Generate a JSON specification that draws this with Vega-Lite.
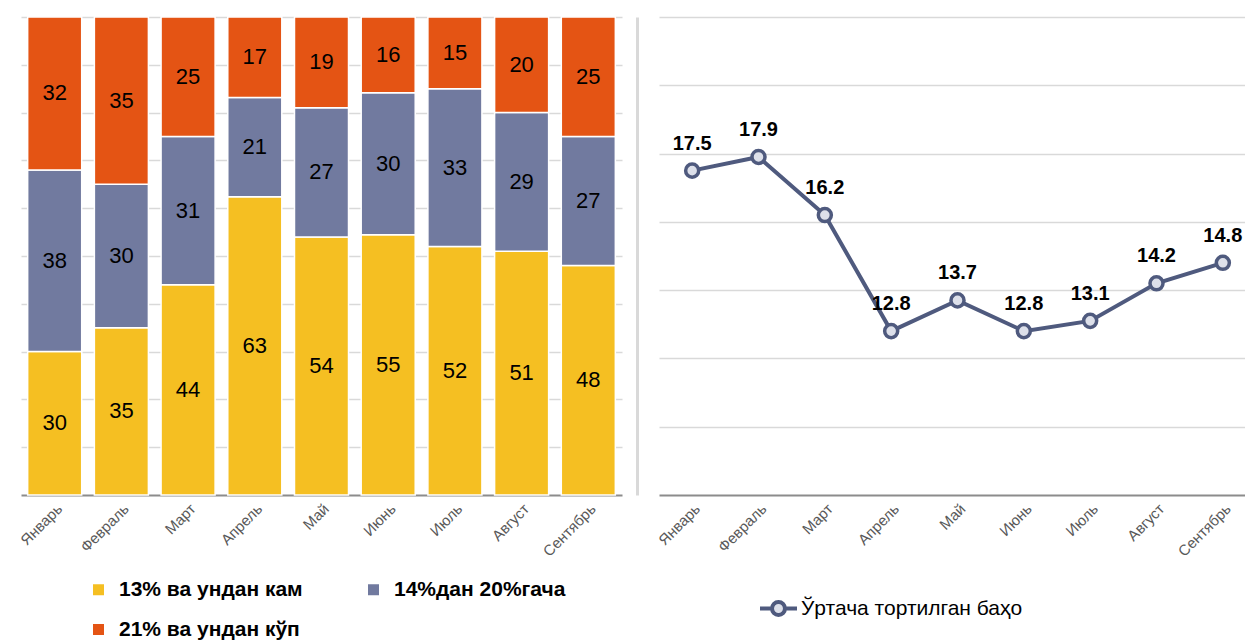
{
  "$schema": "https://vega.github.io/schema/vega-lite/v6.json",
  "padding": {"left": 17, "top": 16, "right": 0, "bottom": 0},
  "bounds": "flush",
  "spacing": 37,
  "resolve": {"scale": {"color": "independent"}, "legend": {"color": "independent"}},
  "config": {
    "font": "Liberation Sans, Arial",
    "view": {"stroke": null},
    "axis": {"title": null}
  },
  "hconcat": [
    {
      "width": 601,
      "height": 478,
      "data": {"values": [
        {"month": "Январь", "category": "13% ва ундан кам", "order": 1, "value": 30},
        {"month": "Январь", "category": "14%дан  20%гача", "order": 2, "value": 38},
        {"month": "Январь", "category": "21% ва ундан кўп", "order": 3, "value": 32},
        {"month": "Февраль", "category": "13% ва ундан кам", "order": 1, "value": 35},
        {"month": "Февраль", "category": "14%дан  20%гача", "order": 2, "value": 30},
        {"month": "Февраль", "category": "21% ва ундан кўп", "order": 3, "value": 35},
        {"month": "Март", "category": "13% ва ундан кам", "order": 1, "value": 44},
        {"month": "Март", "category": "14%дан  20%гача", "order": 2, "value": 31},
        {"month": "Март", "category": "21% ва ундан кўп", "order": 3, "value": 25},
        {"month": "Апрель", "category": "13% ва ундан кам", "order": 1, "value": 63},
        {"month": "Апрель", "category": "14%дан  20%гача", "order": 2, "value": 21},
        {"month": "Апрель", "category": "21% ва ундан кўп", "order": 3, "value": 17},
        {"month": "Май", "category": "13% ва ундан кам", "order": 1, "value": 54},
        {"month": "Май", "category": "14%дан  20%гача", "order": 2, "value": 27},
        {"month": "Май", "category": "21% ва ундан кўп", "order": 3, "value": 19},
        {"month": "Июнь", "category": "13% ва ундан кам", "order": 1, "value": 55},
        {"month": "Июнь", "category": "14%дан  20%гача", "order": 2, "value": 30},
        {"month": "Июнь", "category": "21% ва ундан кўп", "order": 3, "value": 16},
        {"month": "Июль", "category": "13% ва ундан кам", "order": 1, "value": 52},
        {"month": "Июль", "category": "14%дан  20%гача", "order": 2, "value": 33},
        {"month": "Июль", "category": "21% ва ундан кўп", "order": 3, "value": 15},
        {"month": "Август", "category": "13% ва ундан кам", "order": 1, "value": 51},
        {"month": "Август", "category": "14%дан  20%гача", "order": 2, "value": 29},
        {"month": "Август", "category": "21% ва ундан кўп", "order": 3, "value": 20},
        {"month": "Сентябрь", "category": "13% ва ундан кам", "order": 1, "value": 48},
        {"month": "Сентябрь", "category": "14%дан  20%гача", "order": 2, "value": 27},
        {"month": "Сентябрь", "category": "21% ва ундан кўп", "order": 3, "value": 25}
      ]},
      "transform": [
        {"stack": "value", "groupby": ["month"], "sort": [{"field": "order", "order": "ascending"}], "offset": "normalize", "as": ["y0", "y1"]},
        {"calculate": "(datum.y0 + datum.y1) / 2", "as": "ymid"}
      ],
      "encoding": {
        "x": {
          "field": "month", "type": "nominal",
          "sort": ["Январь", "Февраль", "Март", "Апрель", "Май", "Июнь", "Июль", "Август", "Сентябрь"],
          "scale": {"paddingInner": 0.19, "paddingOuter": 0.1},
          "axis": {"labelAngle": -45, "labelFontSize": 15, "labelColor": "#595959", "ticks": false, "domainColor": "#8c8c8c", "domainWidth": 2, "labelPadding": 6}
        }
      },
      "layer": [
        {
          "mark": {"type": "bar", "stroke": "white", "strokeWidth": 1.5},
          "encoding": {
            "y": {"field": "y0", "type": "quantitative", "scale": {"domain": [0, 1]},
              "axis": {"values": [0.1, 0.2, 0.3, 0.4, 0.5, 0.6, 0.7, 0.8, 0.9, 1.0], "labels": false, "ticks": false, "domain": false, "grid": true, "gridColor": "#d9d9d9", "gridWidth": 1.5}},
            "y2": {"field": "y1"},
            "color": {
              "field": "category", "type": "nominal",
              "scale": {"domain": ["13% ва ундан кам", "14%дан  20%гача", "21% ва ундан кўп"], "range": ["#f5bf22", "#717a9f", "#e45414"]},
              "legend": {"orient": "none", "legendX": 67, "legendY": 562, "columns": 2, "values": ["13% ва ундан кам", "21% ва ундан кўп", "14%дан  20%гача"], "title": null, "symbolType": "square", "symbolSize": 121, "symbolStrokeWidth": 0, "labelFontSize": 21, "labelFontWeight": "bold", "labelColor": "#000000", "columnPadding": 60, "rowPadding": 18, "labelLimit": 400, "labelOffset": 10}
            }
          }
        },
        {
          "mark": {"type": "text", "fontSize": 22, "color": "#000000"},
          "encoding": {
            "y": {"field": "ymid", "type": "quantitative"},
            "text": {"field": "value", "type": "quantitative"}
          }
        }
      ]
    },
    {
      "width": 597,
      "height": 478,
      "data": {"values": [
        {"month": "Январь", "score": 17.5, "series": "Ўртача тортилган баҳо"},
        {"month": "Февраль", "score": 17.9, "series": "Ўртача тортилган баҳо"},
        {"month": "Март", "score": 16.2, "series": "Ўртача тортилган баҳо"},
        {"month": "Апрель", "score": 12.8, "series": "Ўртача тортилган баҳо"},
        {"month": "Май", "score": 13.7, "series": "Ўртача тортилган баҳо"},
        {"month": "Июнь", "score": 12.8, "series": "Ўртача тортилган баҳо"},
        {"month": "Июль", "score": 13.1, "series": "Ўртача тортилган баҳо"},
        {"month": "Август", "score": 14.2, "series": "Ўртача тортилган баҳо"},
        {"month": "Сентябрь", "score": 14.8, "series": "Ўртача тортилган баҳо"}
      ]},
      "encoding": {
        "x": {
          "field": "month", "type": "ordinal",
          "sort": ["Январь", "Февраль", "Март", "Апрель", "Май", "Июнь", "Июль", "Август", "Сентябрь"],
          "scale": {"type": "point", "padding": 0.5},
          "axis": {"labelAngle": -45, "labelFontSize": 15, "labelColor": "#595959", "ticks": false, "domainColor": "#8c8c8c", "domainWidth": 2, "labelPadding": 6}
        },
        "y": {
          "field": "score", "type": "quantitative",
          "scale": {"domain": [8, 22], "nice": false, "zero": false},
          "axis": {"values": [10, 12, 14, 16, 18, 20, 22], "labels": false, "ticks": false, "domain": true, "domainColor": "#d9d9d9", "domainWidth": 3, "offset": 22, "grid": true, "gridColor": "#d9d9d9", "gridWidth": 1.5}
        }
      },
      "layer": [
        {
          "mark": {"type": "line", "strokeWidth": 4},
          "encoding": {
            "color": {
              "field": "series", "type": "nominal",
              "scale": {"range": ["#4f5a7e"]},
              "legend": {"orient": "none", "legendX": 99, "legendY": 571, "title": null, "symbolType": "M-1,0H-0.35M0.35,0H1M-0.35,0A0.35,0.35 0 1,1 0.35,0A0.35,0.35 0 1,1 -0.35,0Z", "symbolSize": 1369, "symbolStrokeWidth": 4, "labelFontSize": 21, "labelColor": "#000000", "labelLimit": 400, "labelOffset": 2,
                "encode": {"symbols": {"update": {"fill": {"value": "#dde0ea"}, "stroke": {"value": "#4f5a7e"}, "strokeWidth": {"value": 4}}}}}
            }
          }
        },
        {
          "mark": {"type": "point", "filled": true, "fill": "#dde0ea", "stroke": "#4f5a7e", "strokeWidth": 3.5, "size": 170, "opacity": 1}
        },
        {
          "mark": {"type": "text", "fontSize": 20, "fontWeight": "bold", "color": "#000000", "baseline": "bottom", "dy": -17},
          "encoding": {"text": {"field": "score", "type": "quantitative", "format": ".1f"}}
        }
      ]
    }
  ]
}
